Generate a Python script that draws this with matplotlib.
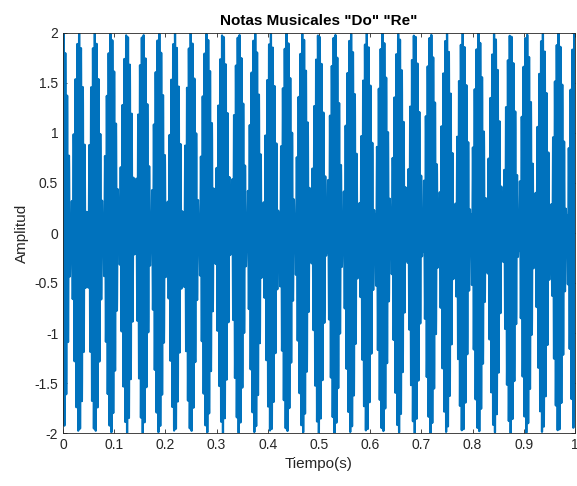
import numpy as np
import matplotlib
matplotlib.use("Agg")
import matplotlib.pyplot as plt

# notas: Do (C4) y Re (D4)
note_names = ["Do", "Re"]
note_freqs = [261.63, 293.66]   # Hz
note_amps = [1.0, 1.0]
fs = 44100                       # muestras por segundo
duration = 1.0

x_ticks = [0, 0.1, 0.2, 0.3, 0.4, 0.5, 0.6, 0.7, 0.8, 0.9, 1]
x_labels = ["0", "0.1", "0.2", "0.3", "0.4", "0.5", "0.6", "0.7", "0.8", "0.9", "1"]
y_ticks = [-2, -1.5, -1, -0.5, 0, 0.5, 1, 1.5, 2]
y_labels = ["-2", "-1.5", "-1", "-0.5", "0", "0.5", "1", "1.5", "2"]

t = np.arange(0, duration + 1 / fs, 1 / fs)
signal = np.zeros_like(t)
for f, a in zip(note_freqs, note_amps):
    signal += a * np.sin(2 * np.pi * f * t)

plt.rcParams['font.family'] = ['Liberation Sans', 'DejaVu Sans']
dark = (0.15, 0.15, 0.15)

fig = plt.figure(figsize=(5.77, 4.86), dpi=100)
ax = fig.add_axes([63 / 577, 1 - 433 / 486, 512 / 577, 400 / 486])
ax.plot(t, signal, color=(0, 0.447, 0.741), linewidth=1.6)

ax.set_xlim(0, 1)
ax.set_ylim(-2, 2)
ax.set_xticks(x_ticks)
ax.set_xticklabels(x_labels)
ax.set_yticks(y_ticks)
ax.set_yticklabels(y_labels)
ax.tick_params(direction='in', top=True, right=True, length=3, width=0.6,
               colors=dark, labelsize=10)
for s in ax.spines.values():
    s.set_color(dark)
    s.set_linewidth(0.6)

ax.set_xlabel('Tiempo(s)', fontsize=11, color=dark)
ax.set_ylabel('Amplitud', fontsize=11, color=dark)
ax.set_title('Notas Musicales "Do" "Re"', fontsize=11, fontweight='bold', color='black')

fig.savefig('out.png', dpi=100)
